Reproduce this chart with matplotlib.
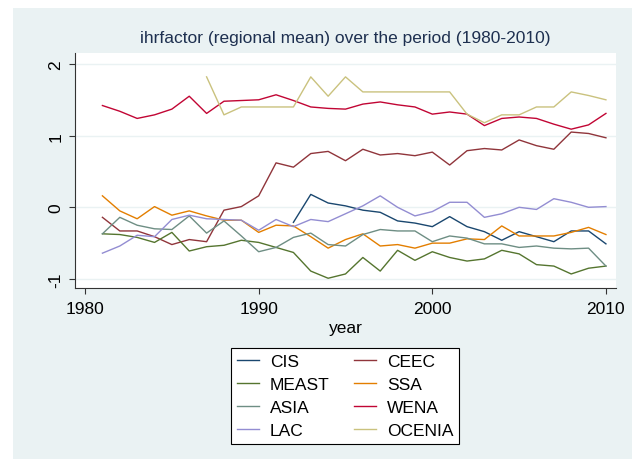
import numpy as np
import matplotlib
matplotlib.use("Agg")
import matplotlib.pyplot as plt
from matplotlib.patches import Rectangle

plt.rcParams['font.family'] = ['Liberation Sans', 'DejaVu Sans']

years = np.arange(1981, 2011)

# regional means (nan = no data)
cis = [np.nan]*11 + [-0.21, 0.18, 0.06, 0.02, -0.04, -0.07, -0.19, -0.22, -0.27,
                     -0.13, -0.27, -0.34, -0.46, -0.34, -0.41, -0.48, -0.33, -0.33, -0.51]
ceec = [-0.14, -0.33, -0.33, -0.41, -0.52, -0.45, -0.48, -0.04, 0.01, 0.16,
        0.62, 0.56, 0.75, 0.78, 0.65, 0.81, 0.73, 0.75, 0.72, 0.77,
        0.59, 0.79, 0.82, 0.80, 0.94, 0.86, 0.81, 1.05, 1.03, 0.97]
meast = [-0.37, -0.38, -0.42, -0.49, -0.35, -0.61, -0.55, -0.53, -0.46, -0.49,
         -0.56, -0.63, -0.89, -0.99, -0.93, -0.70, -0.89, -0.60, -0.74, -0.62,
         -0.70, -0.75, -0.72, -0.60, -0.65, -0.80, -0.82, -0.93, -0.85, -0.82]
ssa = [0.16, -0.05, -0.16, 0.01, -0.11, -0.05, -0.12, -0.18, -0.18, -0.35,
       -0.25, -0.26, -0.41, -0.57, -0.45, -0.37, -0.54, -0.52, -0.57, -0.50,
       -0.50, -0.44, -0.45, -0.26, -0.40, -0.40, -0.40, -0.35, -0.28, -0.38]
asia = [-0.37, -0.14, -0.25, -0.30, -0.31, -0.12, -0.36, -0.19, -0.40, -0.62,
        -0.56, -0.42, -0.36, -0.52, -0.54, -0.38, -0.31, -0.33, -0.33, -0.48,
        -0.40, -0.43, -0.51, -0.51, -0.56, -0.54, -0.57, -0.58, -0.57, -0.82]
wena = [1.42, 1.34, 1.24, 1.29, 1.37, 1.55, 1.31, 1.48, 1.49, 1.50,
        1.57, 1.49, 1.40, 1.38, 1.37, 1.44, 1.47, 1.43, 1.40, 1.30,
        1.33, 1.30, 1.14, 1.24, 1.26, 1.24, 1.16, 1.09, 1.15, 1.31]
lac = [-0.64, -0.54, -0.39, -0.41, -0.17, -0.11, -0.16, -0.17, -0.18, -0.32,
       -0.17, -0.27, -0.17, -0.20, -0.09, 0.02, 0.16, 0.00, -0.12, -0.06,
       0.07, 0.07, -0.14, -0.09, 0.00, -0.03, 0.12, 0.07, 0.00, 0.01]
ocenia = [np.nan]*6 + [1.82, 1.29, 1.40, 1.40, 1.40, 1.40, 1.82, 1.55, 1.82, 1.61,
                       1.61, 1.61, 1.61, 1.61, 1.61, 1.30, 1.18, 1.29, 1.29, 1.40,
                       1.40, 1.61, 1.56, 1.50]

series = [("CIS", cis, "#1a476f"), ("CEEC", ceec, "#90353b"),
          ("MEAST", meast, "#55752f"), ("SSA", ssa, "#e37e00"),
          ("ASIA", asia, "#6e8e84"), ("WENA", wena, "#c10534"),
          ("LAC", lac, "#938dd2"), ("OCENIA", ocenia, "#cac27e")]

bg = "#eaf2f3"
fig = plt.figure(figsize=(6.34, 4.60), dpi=100)
fig.patch.set_facecolor("white")
fig.patches.append(Rectangle((13/634, 0), 619/634, 451/460, transform=fig.transFigure,
                             facecolor=bg, edgecolor="none", zorder=-10))

ax = fig.add_axes([75/634, 1 - 289/460, 541/634, 235/460])
ax.set_facecolor("white")
handles = {}
for name, vals, col in series:
    h, = ax.plot(years, vals, color=col, lw=1.0)
    handles[name] = h

ax.set_xlim(1979.42, 2010.58)
ax.set_ylim(-1.126, 2.153)
ax.set_xticks([1980, 1990, 2000, 2010])
ax.set_yticks([-1, 0, 1, 2])
ax.set_yticklabels(["-1", "0", "1", "2"], rotation=90, va="center")
ax.grid(axis="y", color=bg, lw=1.0)
ax.set_axisbelow(True)
for s in ["top", "right"]:
    ax.spines[s].set_visible(False)
for s in ["left", "bottom"]:
    ax.spines[s].set_color("#333333")
    ax.spines[s].set_linewidth(0.8)
ax.tick_params(length=4.5, width=0.8, color="#333333", labelsize=12.5, pad=4)
ax.tick_params(axis="x", pad=5)
ax.set_xlabel("year", fontsize=12.5, labelpad=3)

fig.text(345/634, 1 - 39/460, "ihrfactor (regional mean) over the period (1980-2010)",
         ha="center", va="center", fontsize=12.5, color="#1e3050")

order = ["CIS", "MEAST", "ASIA", "LAC", "CEEC", "SSA", "WENA", "OCENIA"]
leg = fig.legend([handles[n] for n in order], order, ncol=2, loc="center",
                 bbox_to_anchor=(345/634, 1 - 397/460), fontsize=12.5,
                 fancybox=False, framealpha=1, edgecolor="black",
                 handlelength=1.3, handletextpad=0.6, columnspacing=1.4,
                 labelspacing=0.45, borderpad=0.35)
leg.get_frame().set_linewidth(0.8)

fig.savefig("out.png", dpi=100)
